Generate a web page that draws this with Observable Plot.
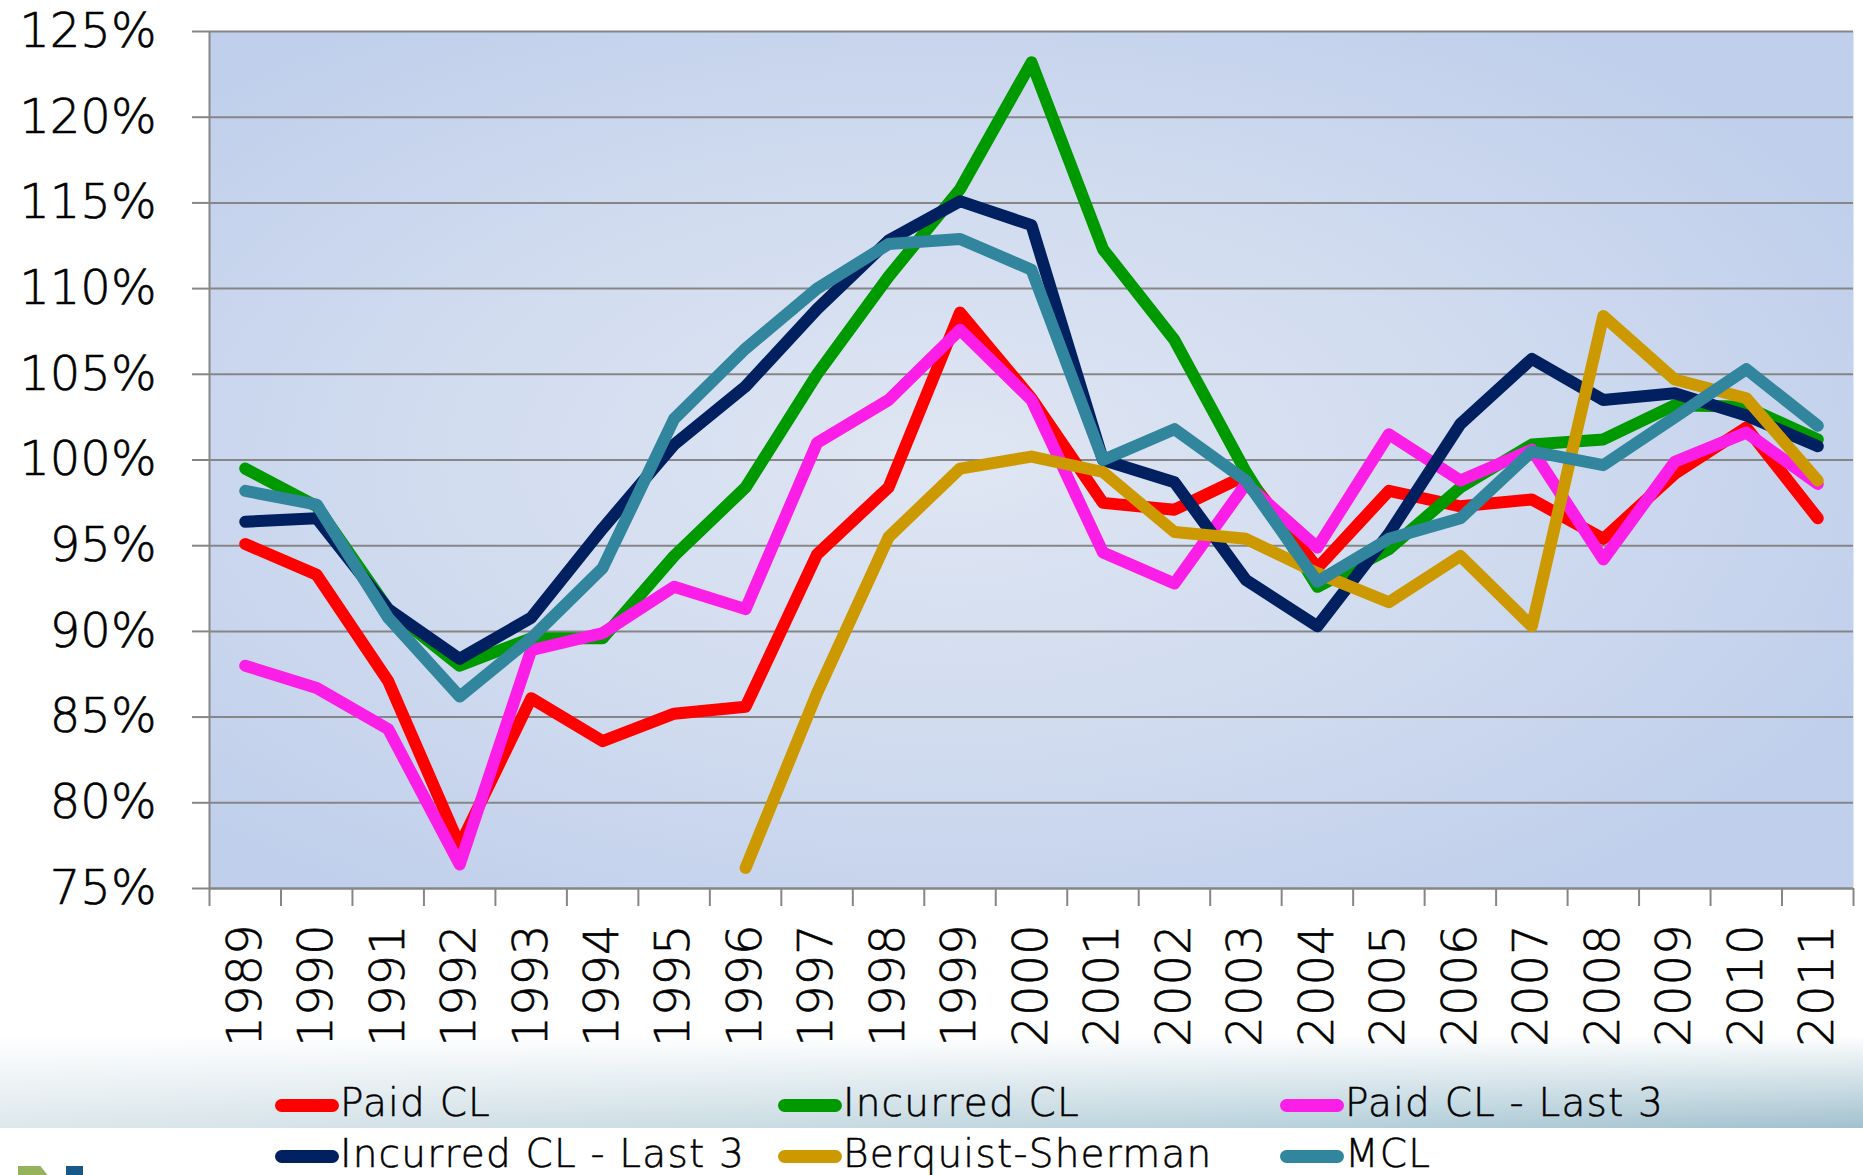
<!DOCTYPE html>
<html>
<head>
<meta charset="utf-8">
<script src="https://cdn.jsdelivr.net/npm/d3@7"></script>
<script src="https://cdn.jsdelivr.net/npm/@observablehq/plot@0.6"></script>
<style>
  html, body { margin: 0; padding: 0; background: #ffffff; }
  #wrap { position: relative; width: 1863px; height: 1175px; overflow: hidden; font-family: "DejaVu Sans", sans-serif; }
  #band { position: absolute; left: 0; top: 1035px; width: 1863px; height: 93px; z-index: 0;
    background: linear-gradient(to bottom, rgba(255,255,255,1) 0%, rgba(255,255,255,0.55) 45%, rgba(255,255,255,0) 100%),
                linear-gradient(to right, #dde8ec 0%, #cadce3 40%, #b4cfda 75%, #a2c1ce 100%); }
  #chart { position: relative; z-index: 1; }
  #chart svg { display: block; }
  #chart svg text { stroke: #000; stroke-width: 0.6px; }
  #legend { position: relative; z-index: 1; width: 1863px; height: 115px; }
  .item { position: absolute; height: 40px; }
  .sw { position: absolute; left: 0; top: 13px; width: 64px; height: 13px; border-radius: 7px; }
  .lab { position: absolute; left: 65px; top: -3px; font-size: 39px; line-height: 40px; font-weight: 200; color: #000; white-space: nowrap; letter-spacing: 1.2px; -webkit-text-stroke: 0.5px #000; }
  .logo { position: absolute; z-index: 2; }
</style>
</head>
<body>
<div id="wrap">
  <div id="band"></div>
  <div id="chart"></div>
  <div id="legend"></div>
  <div class="logo" style="left:18px;top:1166px;width:32px;height:12px;background:#94b35a;clip-path:polygon(0 0,70% 0,100% 100%,0 100%);"></div>
  <div class="logo" style="left:66px;top:1166px;width:17px;height:12px;background:#17598a;"></div>
</div>
<script>
const years = [1989,1990,1991,1992,1993,1994,1995,1996,1997,1998,1999,2000,2001,2002,2003,2004,2005,2006,2007,2008,2009,2010,2011];

const seriesNames = ["Paid CL", "Incurred CL", "Paid CL - Last 3", "Incurred CL - Last 3", "Berquist-Sherman", "MCL"];
const seriesColors = ["#ff0000", "#009900", "#fa1ee6", "#002060", "#cc9900", "#31859c"];

const paidCL      = [95.1, 93.3, 87.1, 77.5, 86.1, 83.6, 85.2, 85.6, 94.5, 98.4, 108.6, 103.6, 97.5, 97.1, 99.1, 93.7, 98.2, 97.3, 97.7, 95.4, 99.2, 101.9, 96.6];
const incurredCL  = [99.5, 97.3, 91.3, 88.0, 89.6, 89.6, 94.4, 98.4, 105.0, 110.7, 115.8, 123.2, 112.3, 107.0, 99.3, 92.6, 94.8, 98.4, 100.9, 101.2, 103.2, 103.1, 101.2];
const paidCL3     = [88.0, 86.7, 84.3, 76.4, 88.9, 89.9, 92.6, 91.3, 101.0, 103.5, 107.6, 103.5, 94.6, 92.8, 98.6, 94.9, 101.5, 98.8, 100.6, 94.2, 99.9, 101.6, 98.6];
const incurredCL3 = [96.4, 96.6, 91.3, 88.4, 90.8, 96.0, 100.9, 104.3, 108.8, 112.8, 115.1, 113.7, 100.0, 98.7, 93.0, 90.3, 95.7, 102.1, 105.9, 103.5, 103.9, 102.6, 100.8];
const berquist    = [null, null, null, null, null, null, null, 76.2, 86.4, 95.5, 99.5, 100.2, 99.3, 95.8, 95.4, 93.4, 91.7, 94.4, 90.3, 108.4, 104.7, 103.6, 98.8];
const mcl         = [98.2, 97.4, 90.8, 86.2, 89.6, 93.7, 102.4, 106.5, 110.0, 112.6, 112.9, 111.1, 100.0, 101.8, 98.8, 92.9, 95.4, 96.6, 100.5, 99.7, 102.5, 105.3, 102.0];

const yTicks = [75, 80, 85, 90, 95, 100, 105, 110, 115, 120, 125];

const seriesValues = [paidCL, incurredCL, paidCL3, incurredCL3, berquist, mcl];
const rows = seriesNames.flatMap((s, i) => years.map((yr, j) => ({series: s, year: yr, value: seriesValues[i][j]})));
const boundaries = [...years.map(y => y - 0.5), years[years.length - 1] + 0.5];

const grey = "#868686";
const plot = Plot.plot({
  width: 1863,
  height: 1060,
  marginLeft: 209,
  marginRight: 10,
  marginTop: 31,
  marginBottom: 172,
  style: {background: "transparent", fontFamily: "DejaVu Sans", fontSize: "47px", fontWeight: 200, color: "#000"},
  x: {type: "linear", domain: [years[0] - 0.5, years[years.length - 1] + 0.5], label: null},
  y: {domain: [yTicks[0], yTicks[yTicks.length - 1]], label: null},
  color: {domain: seriesNames, range: seriesColors},
  marks: [
    Plot.frame({fill: "url(#bg)", stroke: null}),
    Plot.gridY(yTicks, {stroke: grey, strokeOpacity: 1, strokeWidth: 2}),
    Plot.axisY(yTicks, {tickSize: 17, tickPadding: 36, tickFormat: d => d + "%", stroke: grey, strokeWidth: 2, fill: "#000", fontSize: 48, label: null}),
    Plot.axisX(boundaries, {tickSize: 18, tickFormat: () => "", stroke: grey, strokeWidth: 2, label: null}),
    Plot.axisX(years, {tickSize: 0, tickPadding: 36, tickRotate: -90, tickFormat: d => String(d), fill: "#000", fontSize: 48, label: null}),
    Plot.ruleX([years[0] - 0.5], {stroke: grey, strokeWidth: 2}),
    Plot.ruleY([yTicks[0]], {stroke: grey, strokeWidth: 2}),
    Plot.line(rows, {x: "year", y: "value", z: "series", stroke: "series", strokeWidth: 12, strokeLinecap: "round", strokeLinejoin: "round"})
  ]
});

const ns = "http://www.w3.org/2000/svg";
const defs = document.createElementNS(ns, "defs");
defs.innerHTML = '<radialGradient id="bg" cx="0.45" cy="0.5" r="0.62"><stop offset="0" stop-color="#dfe6f3"/><stop offset="0.55" stop-color="#d0dbef"/><stop offset="1" stop-color="#c0cfeb"/></radialGradient>';
plot.insertBefore(defs, plot.firstChild);
document.getElementById("chart").appendChild(plot);

// legend
const legendPos = [[275, 26], [778, 26], [1280, 26], [275, 77], [778, 77], [1280, 77]];
const legend = document.getElementById("legend");
seriesNames.forEach((name, i) => {
  const it = document.createElement("div");
  it.className = "item";
  it.style.left = legendPos[i][0] + "px";
  it.style.top = legendPos[i][1] + "px";
  const sw = document.createElement("div");
  sw.className = "sw";
  sw.style.background = seriesColors[i];
  const lab = document.createElement("div");
  lab.className = "lab";
  lab.textContent = name;
  it.appendChild(sw);
  it.appendChild(lab);
  legend.appendChild(it);
});
</script>
</body>
</html>
